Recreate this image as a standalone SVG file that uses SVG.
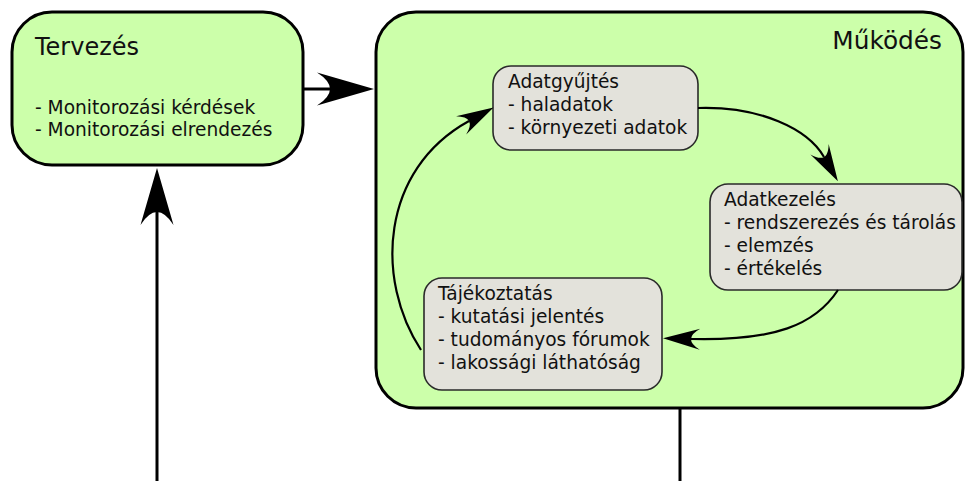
<svg xmlns="http://www.w3.org/2000/svg" width="967" height="481" viewBox="0 0 967 481">
<style>
  .big { fill: #ccffaa; stroke: #000; stroke-width: 3; }
  .small { fill: #e3e2db; stroke: #2a2a2a; stroke-width: 1.6; }
  text { font-family: "DejaVu Sans", "Liberation Sans", sans-serif; fill: #111; }
  .title { font-size: 24px; }
  .item { font-size: 18.6px; }
  .thick { fill: none; stroke: #000; stroke-width: 3; }
  .thin { fill: none; stroke: #000; stroke-width: 2.2; }
</style>
<defs>
  <marker id="bigArrow" markerUnits="userSpaceOnUse" orient="auto" refX="0" refY="0" markerWidth="60" markerHeight="40" overflow="visible">
    <path d="M44,0 L-13,16.5 Q13,0 -13,-16.5 Z" fill="#000"/>
  </marker>
  <marker id="smallArrow" markerUnits="userSpaceOnUse" orient="auto" refX="0" refY="0" markerWidth="40" markerHeight="24" overflow="visible">
    <path d="M28,0 L-9,10.5 Q9,0 -9,-10.5 Z" fill="#000"/>
  </marker>
</defs>

<g id="mukodes">
  <rect class="big" x="376" y="12" width="587" height="396" rx="40" ry="40"/>
  <text class="title" x="942" y="49" text-anchor="end" style="font-size:24.8px">Működés</text>
</g>

<g id="tervezes">
  <rect class="big" x="12" y="12" width="291" height="153" rx="40" ry="40"/>
  <text class="title" x="35" y="55">Tervezés</text>
  <text class="item" x="35" y="114">- Monitorozási kérdések</text>
  <text class="item" x="35" y="136">- Monitorozási elrendezés</text>
</g>

<g id="adatgyujtes">
  <rect class="small" x="493" y="66" width="205" height="84" rx="18" ry="18"/>
  <text class="item" x="508" y="88">Adatgyűjtés</text>
  <text class="item" x="508" y="111">- haladatok</text>
  <text class="item" x="508" y="134">- környezeti adatok</text>
</g>

<g id="adatkezeles">
  <rect class="small" x="710" y="184" width="252" height="106" rx="18" ry="18"/>
  <text class="item" x="724" y="206">Adatkezelés</text>
  <text class="item" x="724" y="229">- rendszerezés és tárolás</text>
  <text class="item" x="724" y="252">- elemzés</text>
  <text class="item" x="724" y="275">- értékelés</text>
</g>

<g id="tajekoztatas">
  <rect class="small" x="424" y="278" width="238" height="112" rx="18" ry="18"/>
  <text class="item" x="438" y="300">Tájékoztatás</text>
  <text class="item" x="438" y="323">- kutatási jelentés</text>
  <text class="item" x="438" y="346">- tudományos fórumok</text>
  <text class="item" x="438" y="369">- lakossági láthatóság</text>
</g>

<g id="connectors">
  <path class="thick" d="M303,89 L330,89" marker-end="url(#bigArrow)"/>
  <path class="thick" d="M157,481 L157,212" marker-end="url(#bigArrow)"/>
  <path class="thick" d="M680,408 L680,481"/>
  <path class="thin" d="M698,108 C760,106 808,129 824,157" marker-end="url(#smallArrow)"/>
  <path class="thin" d="M838,290 C815,325 775,341 691,339" marker-end="url(#smallArrow)"/>
  <path class="thin" d="M421,350 C375,280 380,170 469,121" marker-end="url(#smallArrow)"/>
</g>
</svg>
